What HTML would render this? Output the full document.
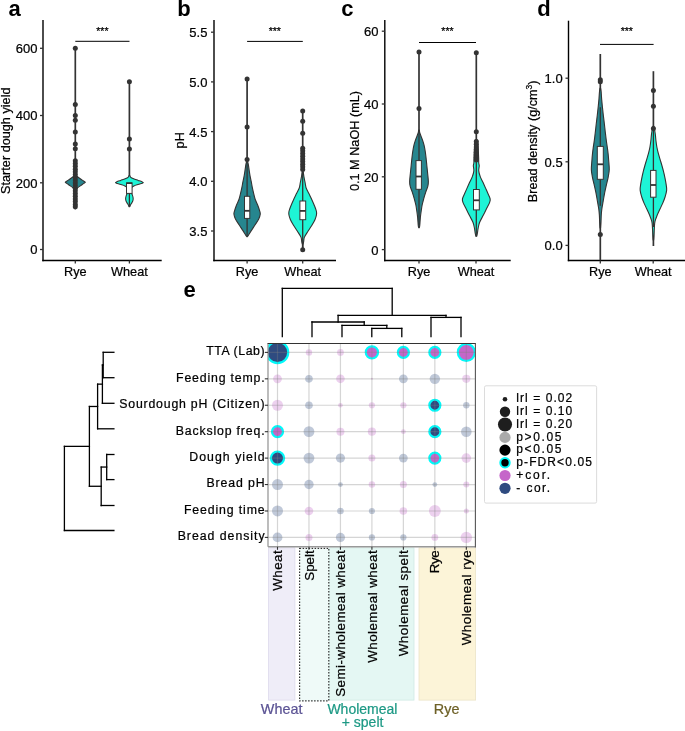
<!DOCTYPE html>
<html><head><meta charset="utf-8"><style>
html,body{margin:0;padding:0;background:#fff;}
body{width:685px;height:731px;overflow:hidden;font-family:"Liberation Sans",sans-serif;}
svg{display:block;will-change:transform;}
</style></head><body>
<svg width="685" height="731" viewBox="0 0 685 731" font-family="'Liberation Sans', sans-serif">
<rect width="685" height="731" fill="#fff"/>
<text x="8.6" y="15.8" font-size="22" text-anchor="start" font-weight="bold" fill="#000" stroke="#000" stroke-width="0" >a</text>
<line x1="43" y1="20" x2="43" y2="261.2" stroke="#000" stroke-width="1.4" />
<line x1="42.3" y1="260.5" x2="161.7" y2="260.5" stroke="#000" stroke-width="1.4" />
<line x1="40" y1="48.3" x2="43" y2="48.3" stroke="#333" stroke-width="1.3" />
<text x="37.5" y="53.199999999999996" font-size="13.0" text-anchor="end" font-weight="normal" fill="#000" stroke="#000" stroke-width="0.22" >600</text>
<line x1="40" y1="115.5" x2="43" y2="115.5" stroke="#333" stroke-width="1.3" />
<text x="37.5" y="120.4" font-size="13.0" text-anchor="end" font-weight="normal" fill="#000" stroke="#000" stroke-width="0.22" >400</text>
<line x1="40" y1="182.8" x2="43" y2="182.8" stroke="#333" stroke-width="1.3" />
<text x="37.5" y="187.70000000000002" font-size="13.0" text-anchor="end" font-weight="normal" fill="#000" stroke="#000" stroke-width="0.22" >200</text>
<line x1="40" y1="249.5" x2="43" y2="249.5" stroke="#333" stroke-width="1.3" />
<text x="37.5" y="254.4" font-size="13.0" text-anchor="end" font-weight="normal" fill="#000" stroke="#000" stroke-width="0.22" >0</text>
<line x1="75.3" y1="260.5" x2="75.3" y2="263.5" stroke="#333" stroke-width="1.3" />
<text x="75.3" y="275.6" font-size="12.7" text-anchor="middle" font-weight="normal" fill="#000" stroke="#000" stroke-width="0.22" >Rye</text>
<line x1="129.4" y1="260.5" x2="129.4" y2="263.5" stroke="#333" stroke-width="1.3" />
<text x="129.4" y="275.6" font-size="12.7" text-anchor="middle" font-weight="normal" fill="#000" stroke="#000" stroke-width="0.22" >Wheat</text>
<text x="0" y="0" font-size="12.7" text-anchor="middle" font-weight="normal" fill="#000" stroke="#000" stroke-width="0.22" transform="translate(10.3,140.7) rotate(-90)">Starter dough yield</text>
<line x1="75.3" y1="41.3" x2="129.5" y2="41.3" stroke="#000" stroke-width="1.0" />
<text x="102.4" y="35.2" font-size="10.5" text-anchor="middle" font-weight="normal" fill="#000" stroke="#000" stroke-width="0.22" >***</text>
<line x1="75.3" y1="48.2" x2="75.3" y2="209.4" stroke="#333" stroke-width="1.7" />
<path d="M75.55,175.20 C75.93,175.50 77.00,176.37 77.85,177.00 C78.70,177.63 79.70,178.33 80.65,179.00 C81.60,179.67 82.77,180.45 83.55,181.00 C84.33,181.55 85.35,181.87 85.35,182.30 C85.35,182.73 84.33,183.05 83.55,183.60 C82.77,184.15 81.60,184.93 80.65,185.60 C79.70,186.27 78.70,186.95 77.85,187.60 C77.00,188.25 75.93,189.18 75.55,189.50 L75.05,189.50 C74.67,189.18 73.60,188.25 72.75,187.60 C71.90,186.95 70.90,186.27 69.95,185.60 C69.00,184.93 67.83,184.15 67.05,183.60 C66.27,183.05 65.25,182.73 65.25,182.30 C65.25,181.87 66.27,181.55 67.05,181.00 C67.83,180.45 69.00,179.67 69.95,179.00 C70.90,178.33 71.90,177.63 72.75,177.00 C73.60,176.37 74.67,175.50 75.05,175.20 Z" fill="#26868f" stroke="#333" stroke-width="1.1" stroke-linejoin="round"/>
<circle cx="75.3" cy="48.2" r="2.5" fill="#333"/>
<circle cx="75.3" cy="104.4" r="2.5" fill="#333"/>
<circle cx="75.3" cy="115.6" r="2.5" fill="#333"/>
<circle cx="75.3" cy="120.2" r="2.5" fill="#333"/>
<circle cx="75.3" cy="132" r="2.5" fill="#333"/>
<circle cx="75.3" cy="144.1" r="2.5" fill="#333"/>
<circle cx="75.3" cy="148.8" r="2.5" fill="#333"/>
<circle cx="75.3" cy="160.8" r="2.5" fill="#333"/>
<circle cx="75.3" cy="163.6" r="2.5" fill="#333"/>
<circle cx="75.3" cy="166.2" r="2.5" fill="#333"/>
<circle cx="75.3" cy="169.2" r="2.5" fill="#333"/>
<circle cx="75.3" cy="171.8" r="2.5" fill="#333"/>
<circle cx="75.3" cy="174.6" r="2.5" fill="#333"/>
<circle cx="75.3" cy="177.2" r="2.5" fill="#333"/>
<circle cx="75.3" cy="180" r="2.5" fill="#333"/>
<circle cx="75.3" cy="182.8" r="2.5" fill="#333"/>
<circle cx="75.3" cy="185.4" r="2.5" fill="#333"/>
<circle cx="75.3" cy="188.2" r="2.5" fill="#333"/>
<circle cx="75.3" cy="190.8" r="2.5" fill="#333"/>
<circle cx="75.3" cy="193.6" r="2.5" fill="#333"/>
<circle cx="75.3" cy="196.2" r="2.5" fill="#333"/>
<circle cx="75.3" cy="199" r="2.5" fill="#333"/>
<circle cx="75.3" cy="201.6" r="2.5" fill="#333"/>
<circle cx="75.3" cy="204.4" r="2.5" fill="#333"/>
<circle cx="75.3" cy="206.8" r="2.5" fill="#333"/>
<line x1="129.4" y1="81.7" x2="129.4" y2="206.7" stroke="#333" stroke-width="1.7" />
<path d="M129.75,175.50 C129.92,175.80 130.10,176.75 130.75,177.30 C131.40,177.85 132.42,178.28 133.65,178.80 C134.88,179.32 136.77,179.90 138.15,180.40 C139.53,180.90 141.08,181.42 141.95,181.80 C142.82,182.18 143.45,182.40 143.35,182.70 C143.25,183.00 142.38,183.25 141.35,183.60 C140.32,183.95 138.38,184.42 137.15,184.80 C135.92,185.18 134.78,185.53 133.95,185.90 C133.12,186.27 132.57,186.62 132.15,187.00 C131.73,187.38 131.65,187.70 131.45,188.20 C131.25,188.70 130.97,189.28 130.95,190.00 C130.93,190.72 131.15,191.75 131.35,192.50 C131.55,193.25 131.88,193.75 132.15,194.50 C132.42,195.25 132.78,196.22 132.95,197.00 C133.12,197.78 133.22,198.45 133.15,199.20 C133.08,199.95 132.85,200.78 132.55,201.50 C132.25,202.22 131.75,202.83 131.35,203.50 C130.95,204.17 130.43,204.95 130.15,205.50 C129.87,206.05 129.73,206.58 129.65,206.80 L129.15,206.80 C129.07,206.58 128.93,206.05 128.65,205.50 C128.37,204.95 127.85,204.17 127.45,203.50 C127.05,202.83 126.55,202.22 126.25,201.50 C125.95,200.78 125.72,199.95 125.65,199.20 C125.58,198.45 125.68,197.78 125.85,197.00 C126.02,196.22 126.38,195.25 126.65,194.50 C126.92,193.75 127.25,193.25 127.45,192.50 C127.65,191.75 127.87,190.72 127.85,190.00 C127.83,189.28 127.55,188.70 127.35,188.20 C127.15,187.70 127.07,187.38 126.65,187.00 C126.23,186.62 125.68,186.27 124.85,185.90 C124.02,185.53 122.88,185.18 121.65,184.80 C120.42,184.42 118.48,183.95 117.45,183.60 C116.42,183.25 115.55,183.00 115.45,182.70 C115.35,182.40 115.98,182.18 116.85,181.80 C117.72,181.42 119.27,180.90 120.65,180.40 C122.03,179.90 123.92,179.32 125.15,178.80 C126.38,178.28 127.40,177.85 128.05,177.30 C128.70,176.75 128.88,175.80 129.05,175.50 Z" fill="#1ef4d6" stroke="#333" stroke-width="1.1" stroke-linejoin="round"/>
<line x1="129.4" y1="193" x2="129.4" y2="206" stroke="#333" stroke-width="1.3" />
<rect x="126.5" y="182.9" width="5.6" height="10.5" fill="#fff" stroke="#333" stroke-width="1"/>
<line x1="126.5" y1="183.2" x2="132.1" y2="183.2" stroke="#333" stroke-width="1.6" />
<circle cx="129.4" cy="81.7" r="2.5" fill="#333"/>
<circle cx="129.4" cy="139" r="2.5" fill="#333"/>
<circle cx="129.4" cy="149" r="2.5" fill="#333"/>
<text x="177.2" y="15.8" font-size="22" text-anchor="start" font-weight="bold" fill="#000" stroke="#000" stroke-width="0" >b</text>
<line x1="214" y1="20" x2="214" y2="261.2" stroke="#000" stroke-width="1.4" />
<line x1="213.3" y1="260.5" x2="336" y2="260.5" stroke="#000" stroke-width="1.4" />
<line x1="211" y1="32.19999999999999" x2="214" y2="32.19999999999999" stroke="#333" stroke-width="1.3" />
<text x="207.4" y="37.09999999999999" font-size="13.0" text-anchor="end" font-weight="normal" fill="#000" stroke="#000" stroke-width="0.22" >5.5</text>
<line x1="211" y1="81.89999999999998" x2="214" y2="81.89999999999998" stroke="#333" stroke-width="1.3" />
<text x="207.4" y="86.79999999999998" font-size="13.0" text-anchor="end" font-weight="normal" fill="#000" stroke="#000" stroke-width="0.22" >5.0</text>
<line x1="211" y1="131.6" x2="214" y2="131.6" stroke="#333" stroke-width="1.3" />
<text x="207.4" y="136.5" font-size="13.0" text-anchor="end" font-weight="normal" fill="#000" stroke="#000" stroke-width="0.22" >4.5</text>
<line x1="211" y1="181.3" x2="214" y2="181.3" stroke="#333" stroke-width="1.3" />
<text x="207.4" y="186.20000000000002" font-size="13.0" text-anchor="end" font-weight="normal" fill="#000" stroke="#000" stroke-width="0.22" >4.0</text>
<line x1="211" y1="231.0" x2="214" y2="231.0" stroke="#333" stroke-width="1.3" />
<text x="207.4" y="235.9" font-size="13.0" text-anchor="end" font-weight="normal" fill="#000" stroke="#000" stroke-width="0.22" >3.5</text>
<line x1="247.1" y1="260.5" x2="247.1" y2="263.5" stroke="#333" stroke-width="1.3" />
<text x="247.1" y="275.6" font-size="12.7" text-anchor="middle" font-weight="normal" fill="#000" stroke="#000" stroke-width="0.22" >Rye</text>
<line x1="302.7" y1="260.5" x2="302.7" y2="263.5" stroke="#333" stroke-width="1.3" />
<text x="302.7" y="275.6" font-size="12.7" text-anchor="middle" font-weight="normal" fill="#000" stroke="#000" stroke-width="0.22" >Wheat</text>
<text x="0" y="0" font-size="12.7" text-anchor="middle" font-weight="normal" fill="#000" stroke="#000" stroke-width="0.22" transform="translate(184.0,140.3) rotate(-90)">pH</text>
<line x1="247.1" y1="41.4" x2="302.8" y2="41.4" stroke="#000" stroke-width="1.0" />
<text x="274.8" y="35.2" font-size="10.5" text-anchor="middle" font-weight="normal" fill="#000" stroke="#000" stroke-width="0.22" >***</text>
<line x1="247.1" y1="79.1" x2="247.1" y2="236.2" stroke="#333" stroke-width="1.7" />
<path d="M247.45,161.00 C247.59,161.55 248.02,162.78 248.30,164.30 C248.58,165.82 248.86,168.17 249.15,170.10 C249.44,172.03 249.70,173.97 250.05,175.90 C250.40,177.83 250.87,179.75 251.25,181.70 C251.63,183.65 251.95,185.65 252.35,187.60 C252.75,189.55 253.18,191.47 253.65,193.40 C254.12,195.33 254.48,197.27 255.15,199.20 C255.82,201.13 256.90,203.07 257.65,205.00 C258.40,206.93 259.22,209.25 259.65,210.80 C260.08,212.35 260.40,212.93 260.25,214.30 C260.10,215.67 259.60,217.25 258.75,219.00 C257.90,220.75 256.40,222.87 255.15,224.80 C253.90,226.73 252.37,228.87 251.25,230.60 C250.13,232.33 249.10,234.20 248.45,235.20 C247.80,236.20 247.53,236.37 247.35,236.60 L246.85,236.60 C246.67,236.37 246.40,236.20 245.75,235.20 C245.10,234.20 244.07,232.33 242.95,230.60 C241.83,228.87 240.30,226.73 239.05,224.80 C237.80,222.87 236.30,220.75 235.45,219.00 C234.60,217.25 234.10,215.67 233.95,214.30 C233.80,212.93 234.12,212.35 234.55,210.80 C234.98,209.25 235.80,206.93 236.55,205.00 C237.30,203.07 238.38,201.13 239.05,199.20 C239.72,197.27 240.08,195.33 240.55,193.40 C241.02,191.47 241.45,189.55 241.85,187.60 C242.25,185.65 242.57,183.65 242.95,181.70 C243.33,179.75 243.80,177.83 244.15,175.90 C244.50,173.97 244.76,172.03 245.05,170.10 C245.34,168.17 245.62,165.82 245.90,164.30 C246.18,162.78 246.61,161.55 246.75,161.00 Z" fill="#26868f" stroke="#333" stroke-width="1.1" stroke-linejoin="round"/>
<line x1="247.1" y1="160" x2="247.1" y2="196.3" stroke="#333" stroke-width="1.3" />
<line x1="247.1" y1="218.4" x2="247.1" y2="236" stroke="#333" stroke-width="1.3" />
<rect x="244.5" y="196.3" width="5.300000000000011" height="22.099999999999994" fill="#fff" stroke="#333" stroke-width="1"/>
<line x1="244.5" y1="210.8" x2="249.8" y2="210.8" stroke="#333" stroke-width="1.8" />
<circle cx="247.1" cy="79.1" r="2.5" fill="#333"/>
<circle cx="247.1" cy="127" r="2.5" fill="#333"/>
<circle cx="247.1" cy="159.6" r="2.5" fill="#333"/>
<line x1="302.7" y1="111" x2="302.7" y2="249.7" stroke="#333" stroke-width="1.7" />
<path d="M303.25,172.00 C303.36,172.77 303.60,174.87 303.90,176.60 C304.20,178.33 304.66,180.45 305.05,182.40 C305.44,184.35 305.57,186.35 306.25,188.30 C306.93,190.25 308.20,192.17 309.15,194.10 C310.10,196.03 311.07,197.97 311.95,199.90 C312.83,201.83 313.70,203.77 314.45,205.70 C315.20,207.63 316.12,209.95 316.45,211.50 C316.78,213.05 316.70,213.63 316.45,215.00 C316.20,216.37 315.73,217.95 314.95,219.70 C314.17,221.45 312.92,223.57 311.75,225.50 C310.58,227.43 309.17,229.37 307.95,231.30 C306.73,233.23 305.17,235.37 304.45,237.10 C303.73,238.83 303.88,240.55 303.65,241.70 C303.42,242.85 303.15,243.62 303.05,244.00 L302.35,244.00 C302.25,243.62 301.98,242.85 301.75,241.70 C301.52,240.55 301.67,238.83 300.95,237.10 C300.23,235.37 298.67,233.23 297.45,231.30 C296.23,229.37 294.82,227.43 293.65,225.50 C292.48,223.57 291.23,221.45 290.45,219.70 C289.67,217.95 289.20,216.37 288.95,215.00 C288.70,213.63 288.62,213.05 288.95,211.50 C289.28,209.95 290.20,207.63 290.95,205.70 C291.70,203.77 292.57,201.83 293.45,199.90 C294.33,197.97 295.30,196.03 296.25,194.10 C297.20,192.17 298.47,190.25 299.15,188.30 C299.83,186.35 299.96,184.35 300.35,182.40 C300.74,180.45 301.20,178.33 301.50,176.60 C301.80,174.87 302.04,172.77 302.15,172.00 Z" fill="#1ef4d6" stroke="#333" stroke-width="1.1" stroke-linejoin="round"/>
<line x1="302.7" y1="172" x2="302.7" y2="201" stroke="#333" stroke-width="1.3" />
<line x1="302.7" y1="219.7" x2="302.7" y2="249" stroke="#333" stroke-width="1.3" />
<rect x="299.9" y="201" width="5.800000000000011" height="18.69999999999999" fill="#fff" stroke="#333" stroke-width="1"/>
<line x1="299.9" y1="210.9" x2="305.7" y2="210.9" stroke="#333" stroke-width="1.8" />
<circle cx="302.7" cy="111" r="2.5" fill="#333"/>
<circle cx="302.7" cy="121.2" r="2.5" fill="#333"/>
<circle cx="302.7" cy="133.2" r="2.5" fill="#333"/>
<circle cx="302.7" cy="148.2" r="2.5" fill="#333"/>
<circle cx="302.7" cy="150.8" r="2.5" fill="#333"/>
<circle cx="302.7" cy="153.6" r="2.5" fill="#333"/>
<circle cx="302.7" cy="156.2" r="2.5" fill="#333"/>
<circle cx="302.7" cy="158.9" r="2.5" fill="#333"/>
<circle cx="302.7" cy="161.5" r="2.5" fill="#333"/>
<circle cx="302.7" cy="164.2" r="2.5" fill="#333"/>
<circle cx="302.7" cy="166.8" r="2.5" fill="#333"/>
<circle cx="302.7" cy="169.5" r="2.5" fill="#333"/>
<circle cx="302.7" cy="249.7" r="2.5" fill="#333"/>
<text x="341.2" y="15.8" font-size="22" text-anchor="start" font-weight="bold" fill="#000" stroke="#000" stroke-width="0" >c</text>
<line x1="384.8" y1="20" x2="384.8" y2="261.2" stroke="#000" stroke-width="1.4" />
<line x1="384.1" y1="260.5" x2="510.7" y2="260.5" stroke="#000" stroke-width="1.4" />
<line x1="381.8" y1="31.19999999999999" x2="384.8" y2="31.19999999999999" stroke="#333" stroke-width="1.3" />
<text x="378.5" y="36.09999999999999" font-size="13.0" text-anchor="end" font-weight="normal" fill="#000" stroke="#000" stroke-width="0.22" >60</text>
<line x1="381.8" y1="104.0" x2="384.8" y2="104.0" stroke="#333" stroke-width="1.3" />
<text x="378.5" y="108.9" font-size="13.0" text-anchor="end" font-weight="normal" fill="#000" stroke="#000" stroke-width="0.22" >40</text>
<line x1="381.8" y1="176.8" x2="384.8" y2="176.8" stroke="#333" stroke-width="1.3" />
<text x="378.5" y="181.70000000000002" font-size="13.0" text-anchor="end" font-weight="normal" fill="#000" stroke="#000" stroke-width="0.22" >20</text>
<line x1="381.8" y1="249.6" x2="384.8" y2="249.6" stroke="#333" stroke-width="1.3" />
<text x="378.5" y="254.5" font-size="13.0" text-anchor="end" font-weight="normal" fill="#000" stroke="#000" stroke-width="0.22" >0</text>
<line x1="419" y1="260.5" x2="419" y2="263.5" stroke="#333" stroke-width="1.3" />
<text x="419" y="275.6" font-size="12.7" text-anchor="middle" font-weight="normal" fill="#000" stroke="#000" stroke-width="0.22" >Rye</text>
<line x1="476" y1="260.5" x2="476" y2="263.5" stroke="#333" stroke-width="1.3" />
<text x="476" y="275.6" font-size="12.7" text-anchor="middle" font-weight="normal" fill="#000" stroke="#000" stroke-width="0.22" >Wheat</text>
<text x="0" y="0" font-size="12.7" text-anchor="middle" font-weight="normal" fill="#000" stroke="#000" stroke-width="0.22" transform="translate(358.6,141) rotate(-90)">0.1 M NaOH (mL)</text>
<line x1="419" y1="42.5" x2="476" y2="42.5" stroke="#000" stroke-width="1.0" />
<text x="447.5" y="35.2" font-size="10.5" text-anchor="middle" font-weight="normal" fill="#000" stroke="#000" stroke-width="0.22" >***</text>
<line x1="419" y1="51.9" x2="419" y2="227.1" stroke="#333" stroke-width="1.7" />
<path d="M419.35,130.00 C419.42,130.43 419.50,131.65 419.75,132.60 C420.00,133.55 420.37,134.38 420.85,135.70 C421.33,137.02 422.12,138.92 422.65,140.50 C423.18,142.08 423.62,143.37 424.05,145.20 C424.48,147.03 424.92,149.40 425.25,151.50 C425.58,153.60 425.78,155.43 426.05,157.80 C426.32,160.17 426.58,163.08 426.85,165.70 C427.12,168.32 427.40,170.88 427.65,173.50 C427.90,176.12 428.32,179.30 428.35,181.40 C428.38,183.50 428.30,184.27 427.85,186.10 C427.40,187.93 426.33,190.30 425.65,192.40 C424.97,194.50 424.33,196.60 423.75,198.70 C423.17,200.80 422.58,202.90 422.15,205.00 C421.72,207.10 421.45,209.20 421.15,211.30 C420.85,213.40 420.58,215.23 420.35,217.60 C420.12,219.97 419.93,223.80 419.75,225.50 C419.57,227.20 419.33,227.42 419.25,227.80 L418.75,227.80 C418.67,227.42 418.43,227.20 418.25,225.50 C418.07,223.80 417.88,219.97 417.65,217.60 C417.42,215.23 417.15,213.40 416.85,211.30 C416.55,209.20 416.28,207.10 415.85,205.00 C415.42,202.90 414.83,200.80 414.25,198.70 C413.67,196.60 413.03,194.50 412.35,192.40 C411.67,190.30 410.60,187.93 410.15,186.10 C409.70,184.27 409.62,183.50 409.65,181.40 C409.68,179.30 410.10,176.12 410.35,173.50 C410.60,170.88 410.88,168.32 411.15,165.70 C411.42,163.08 411.68,160.17 411.95,157.80 C412.22,155.43 412.42,153.60 412.75,151.50 C413.08,149.40 413.52,147.03 413.95,145.20 C414.38,143.37 414.82,142.08 415.35,140.50 C415.88,138.92 416.67,137.02 417.15,135.70 C417.63,134.38 418.00,133.55 418.25,132.60 C418.50,131.65 418.58,130.43 418.65,130.00 Z" fill="#26868f" stroke="#333" stroke-width="1.1" stroke-linejoin="round"/>
<line x1="419" y1="130" x2="419" y2="160.6" stroke="#333" stroke-width="1.3" />
<line x1="419" y1="189.3" x2="419" y2="225" stroke="#333" stroke-width="1.3" />
<rect x="416" y="160.6" width="5.399999999999977" height="28.700000000000017" fill="#fff" stroke="#333" stroke-width="1"/>
<line x1="416" y1="176.5" x2="421.4" y2="176.5" stroke="#333" stroke-width="1.8" />
<circle cx="419" cy="51.9" r="2.5" fill="#333"/>
<circle cx="419" cy="108.6" r="2.5" fill="#333"/>
<line x1="476.3" y1="52.8" x2="476.3" y2="236.5" stroke="#333" stroke-width="1.7" />
<path d="M477.55,140.00 C477.67,141.67 478.07,147.00 478.25,150.00 C478.43,153.00 478.57,155.83 478.65,158.00 C478.73,160.17 478.65,161.70 478.75,163.00 C478.85,164.30 479.25,164.48 479.25,165.80 C479.25,167.12 478.58,169.10 478.75,170.90 C478.92,172.70 479.55,174.70 480.25,176.60 C480.95,178.50 482.07,180.38 482.95,182.30 C483.83,184.22 484.70,186.18 485.55,188.10 C486.40,190.02 487.28,192.02 488.05,193.80 C488.82,195.58 489.88,197.37 490.15,198.80 C490.42,200.23 490.20,200.85 489.65,202.40 C489.10,203.95 487.92,205.95 486.85,208.10 C485.78,210.25 484.47,212.90 483.25,215.30 C482.03,217.70 480.40,220.35 479.55,222.50 C478.70,224.65 478.53,226.28 478.15,228.20 C477.77,230.12 477.52,232.65 477.25,234.00 C476.98,235.35 476.67,235.92 476.55,236.30 L476.05,236.30 C475.93,235.92 475.62,235.35 475.35,234.00 C475.08,232.65 474.83,230.12 474.45,228.20 C474.07,226.28 473.90,224.65 473.05,222.50 C472.20,220.35 470.57,217.70 469.35,215.30 C468.13,212.90 466.82,210.25 465.75,208.10 C464.68,205.95 463.50,203.95 462.95,202.40 C462.40,200.85 462.18,200.23 462.45,198.80 C462.72,197.37 463.78,195.58 464.55,193.80 C465.32,192.02 466.20,190.02 467.05,188.10 C467.90,186.18 468.77,184.22 469.65,182.30 C470.53,180.38 471.65,178.50 472.35,176.60 C473.05,174.70 473.68,172.70 473.85,170.90 C474.02,169.10 473.35,167.12 473.35,165.80 C473.35,164.48 473.75,164.30 473.85,163.00 C473.95,161.70 473.87,160.17 473.95,158.00 C474.03,155.83 474.17,153.00 474.35,150.00 C474.53,147.00 474.93,141.67 475.05,140.00 Z" fill="#1ef4d6" stroke="#333" stroke-width="1.1" stroke-linejoin="round"/>
<line x1="476.3" y1="160" x2="476.3" y2="189.5" stroke="#333" stroke-width="1.3" />
<line x1="476.3" y1="209.9" x2="476.3" y2="235" stroke="#333" stroke-width="1.3" />
<rect x="473.5" y="189.5" width="5.800000000000011" height="20.400000000000006" fill="#fff" stroke="#333" stroke-width="1"/>
<line x1="473.5" y1="200.3" x2="479.3" y2="200.3" stroke="#333" stroke-width="1.8" />
<circle cx="476.3" cy="52.8" r="2.5" fill="#333"/>
<circle cx="476.3" cy="131.8" r="2.5" fill="#333"/>
<circle cx="476.3" cy="141.6" r="2.5" fill="#333"/>
<circle cx="476.3" cy="144.2" r="2.5" fill="#333"/>
<circle cx="476.3" cy="146.9" r="2.5" fill="#333"/>
<circle cx="476.3" cy="149.5" r="2.5" fill="#333"/>
<circle cx="476.3" cy="152.2" r="2.5" fill="#333"/>
<circle cx="476.3" cy="154.8" r="2.5" fill="#333"/>
<circle cx="476.3" cy="157.5" r="2.5" fill="#333"/>
<circle cx="476.3" cy="160" r="2.5" fill="#333"/>
<text x="537.3" y="15.8" font-size="22" text-anchor="start" font-weight="bold" fill="#000" stroke="#000" stroke-width="0" >d</text>
<line x1="568.5" y1="20.7" x2="568.5" y2="261.2" stroke="#000" stroke-width="1.4" />
<line x1="567.8" y1="260.5" x2="685" y2="260.5" stroke="#000" stroke-width="1.4" />
<line x1="565.5" y1="78.20000000000002" x2="568.5" y2="78.20000000000002" stroke="#333" stroke-width="1.3" />
<text x="562.7" y="83.10000000000002" font-size="13.0" text-anchor="end" font-weight="normal" fill="#000" stroke="#000" stroke-width="0.22" >1.0</text>
<line x1="565.5" y1="161.8" x2="568.5" y2="161.8" stroke="#333" stroke-width="1.3" />
<text x="562.7" y="166.70000000000002" font-size="13.0" text-anchor="end" font-weight="normal" fill="#000" stroke="#000" stroke-width="0.22" >0.5</text>
<line x1="565.5" y1="245.4" x2="568.5" y2="245.4" stroke="#333" stroke-width="1.3" />
<text x="562.7" y="250.3" font-size="13.0" text-anchor="end" font-weight="normal" fill="#000" stroke="#000" stroke-width="0.22" >0.0</text>
<line x1="600.3" y1="260.5" x2="600.3" y2="263.5" stroke="#333" stroke-width="1.3" />
<text x="600.3" y="275.6" font-size="12.7" text-anchor="middle" font-weight="normal" fill="#000" stroke="#000" stroke-width="0.22" >Rye</text>
<line x1="653.2" y1="260.5" x2="653.2" y2="263.5" stroke="#333" stroke-width="1.3" />
<text x="653.2" y="275.6" font-size="12.7" text-anchor="middle" font-weight="normal" fill="#000" stroke="#000" stroke-width="0.22" >Wheat</text>
<text font-size="12.7" text-anchor="middle" fill="#000" stroke="#000" stroke-width="0.22" transform="translate(536.9,141.3) rotate(-90)">Bread density (g/cm<tspan font-size="8.5" dy="-5">3</tspan><tspan dy="5">)</tspan></text>
<line x1="600" y1="44.4" x2="653.6" y2="44.4" stroke="#000" stroke-width="1.0" />
<text x="626.8" y="35.2" font-size="10.5" text-anchor="middle" font-weight="normal" fill="#000" stroke="#000" stroke-width="0.22" >***</text>
<line x1="600.3" y1="54" x2="600.3" y2="260" stroke="#333" stroke-width="1.7" />
<path d="M600.55,88.00 C600.65,88.67 600.97,90.15 601.15,92.00 C601.33,93.85 601.43,96.55 601.65,99.10 C601.87,101.65 602.17,104.57 602.45,107.30 C602.73,110.03 603.03,112.77 603.35,115.50 C603.67,118.23 604.03,120.97 604.35,123.70 C604.67,126.43 604.93,129.17 605.25,131.90 C605.57,134.63 605.88,137.37 606.25,140.10 C606.62,142.83 607.13,145.98 607.45,148.30 C607.77,150.62 607.95,152.05 608.15,154.00 C608.35,155.95 608.47,157.43 608.65,160.00 C608.83,162.57 609.32,166.60 609.25,169.40 C609.18,172.20 608.70,174.33 608.25,176.80 C607.80,179.27 607.15,181.53 606.55,184.20 C605.95,186.87 605.22,189.93 604.65,192.80 C604.08,195.67 603.62,198.73 603.15,201.40 C602.68,204.07 602.17,206.55 601.85,208.80 C601.53,211.05 601.40,212.70 601.25,214.90 C601.10,217.10 601.07,219.82 600.95,222.00 C600.83,224.18 600.62,227.00 600.55,228.00 L600.05,228.00 C599.98,227.00 599.77,224.18 599.65,222.00 C599.53,219.82 599.50,217.10 599.35,214.90 C599.20,212.70 599.07,211.05 598.75,208.80 C598.43,206.55 597.92,204.07 597.45,201.40 C596.98,198.73 596.52,195.67 595.95,192.80 C595.38,189.93 594.65,186.87 594.05,184.20 C593.45,181.53 592.80,179.27 592.35,176.80 C591.90,174.33 591.42,172.20 591.35,169.40 C591.28,166.60 591.77,162.57 591.95,160.00 C592.13,157.43 592.25,155.95 592.45,154.00 C592.65,152.05 592.83,150.62 593.15,148.30 C593.47,145.98 593.98,142.83 594.35,140.10 C594.72,137.37 595.03,134.63 595.35,131.90 C595.67,129.17 595.93,126.43 596.25,123.70 C596.57,120.97 596.93,118.23 597.25,115.50 C597.57,112.77 597.87,110.03 598.15,107.30 C598.43,104.57 598.73,101.65 598.95,99.10 C599.17,96.55 599.27,93.85 599.45,92.00 C599.63,90.15 599.95,88.67 600.05,88.00 Z" fill="#26868f" stroke="#333" stroke-width="1.1" stroke-linejoin="round"/>
<line x1="600.3" y1="107.3" x2="600.3" y2="146.4" stroke="#333" stroke-width="1.3" />
<line x1="600.3" y1="179.3" x2="600.3" y2="205.7" stroke="#333" stroke-width="1.3" />
<rect x="597.3" y="146.4" width="6.0" height="32.900000000000006" fill="#fff" stroke="#333" stroke-width="1"/>
<line x1="597.3" y1="164.3" x2="603.3" y2="164.3" stroke="#333" stroke-width="1.8" />
<circle cx="600.3" cy="79.8" r="2.5" fill="#333"/>
<circle cx="600.3" cy="81.8" r="2.5" fill="#333"/>
<circle cx="600.3" cy="234.6" r="2.5" fill="#333"/>
<line x1="653.4" y1="71.2" x2="653.4" y2="246" stroke="#333" stroke-width="1.7" />
<path d="M653.75,126.00 C653.90,126.67 654.38,128.57 654.65,130.00 C654.92,131.43 655.13,132.80 655.35,134.60 C655.57,136.40 655.70,138.73 655.95,140.80 C656.20,142.87 656.47,144.95 656.85,147.00 C657.23,149.05 657.72,151.05 658.25,153.10 C658.78,155.15 659.44,157.23 660.05,159.30 C660.66,161.37 661.32,163.45 661.90,165.50 C662.48,167.55 663.04,169.55 663.55,171.60 C664.06,173.65 664.53,175.75 664.95,177.80 C665.37,179.85 665.77,181.85 666.05,183.90 C666.33,185.95 666.82,187.92 666.65,190.10 C666.48,192.28 665.70,194.83 665.05,197.00 C664.40,199.17 663.62,201.05 662.75,203.10 C661.88,205.15 660.80,207.23 659.85,209.30 C658.90,211.37 657.87,213.45 657.05,215.50 C656.23,217.55 655.40,219.55 654.95,221.60 C654.50,223.65 654.52,225.40 654.35,227.80 C654.18,230.20 654.07,233.97 653.95,236.00 C653.83,238.03 653.70,239.33 653.65,240.00 L653.15,240.00 C653.10,239.33 652.97,238.03 652.85,236.00 C652.73,233.97 652.62,230.20 652.45,227.80 C652.28,225.40 652.30,223.65 651.85,221.60 C651.40,219.55 650.57,217.55 649.75,215.50 C648.93,213.45 647.90,211.37 646.95,209.30 C646.00,207.23 644.92,205.15 644.05,203.10 C643.18,201.05 642.40,199.17 641.75,197.00 C641.10,194.83 640.32,192.28 640.15,190.10 C639.98,187.92 640.47,185.95 640.75,183.90 C641.03,181.85 641.43,179.85 641.85,177.80 C642.27,175.75 642.74,173.65 643.25,171.60 C643.76,169.55 644.32,167.55 644.90,165.50 C645.48,163.45 646.14,161.37 646.75,159.30 C647.36,157.23 648.02,155.15 648.55,153.10 C649.08,151.05 649.57,149.05 649.95,147.00 C650.33,144.95 650.60,142.87 650.85,140.80 C651.10,138.73 651.23,136.40 651.45,134.60 C651.67,132.80 651.88,131.43 652.15,130.00 C652.42,128.57 652.90,126.67 653.05,126.00 Z" fill="#1ef4d6" stroke="#333" stroke-width="1.1" stroke-linejoin="round"/>
<line x1="653.4" y1="130" x2="653.4" y2="170.4" stroke="#333" stroke-width="1.3" />
<line x1="653.4" y1="197.2" x2="653.4" y2="227" stroke="#333" stroke-width="1.3" />
<rect x="650.6" y="170.4" width="5.399999999999977" height="26.799999999999983" fill="#fff" stroke="#333" stroke-width="1"/>
<line x1="650.6" y1="185" x2="656" y2="185" stroke="#333" stroke-width="1.8" />
<circle cx="653.4" cy="90.6" r="2.5" fill="#333"/>
<circle cx="653.4" cy="106.3" r="2.5" fill="#333"/>
<circle cx="653.4" cy="128.4" r="2.5" fill="#333"/>
<text x="183.6" y="297.3" font-size="22" text-anchor="start" font-weight="bold" fill="#000" stroke="#000" stroke-width="0" >e</text>
<line x1="282.3" y1="288.3" x2="392.2" y2="288.3" stroke="#000" stroke-width="1.3" stroke-linecap="square"/>
<line x1="282.3" y1="288.3" x2="282.3" y2="336.7" stroke="#000" stroke-width="1.3" stroke-linecap="square"/>
<line x1="392.2" y1="288.3" x2="392.2" y2="315.3" stroke="#000" stroke-width="1.3" stroke-linecap="square"/>
<line x1="338.1" y1="315.3" x2="446" y2="315.3" stroke="#000" stroke-width="1.3" stroke-linecap="square"/>
<line x1="338.1" y1="315.3" x2="338.1" y2="322" stroke="#000" stroke-width="1.3" stroke-linecap="square"/>
<line x1="446" y1="315.3" x2="446" y2="317.4" stroke="#000" stroke-width="1.3" stroke-linecap="square"/>
<line x1="312" y1="322" x2="364.2" y2="322" stroke="#000" stroke-width="1.3" stroke-linecap="square"/>
<line x1="312" y1="322" x2="312" y2="336.7" stroke="#000" stroke-width="1.3" stroke-linecap="square"/>
<line x1="364.2" y1="322" x2="364.2" y2="325.4" stroke="#000" stroke-width="1.3" stroke-linecap="square"/>
<line x1="342" y1="325.4" x2="386.8" y2="325.4" stroke="#000" stroke-width="1.3" stroke-linecap="square"/>
<line x1="342" y1="325.4" x2="342" y2="336.7" stroke="#000" stroke-width="1.3" stroke-linecap="square"/>
<line x1="386.8" y1="325.4" x2="386.8" y2="328.4" stroke="#000" stroke-width="1.3" stroke-linecap="square"/>
<line x1="371.8" y1="328.4" x2="401.8" y2="328.4" stroke="#000" stroke-width="1.3" stroke-linecap="square"/>
<line x1="371.8" y1="328.4" x2="371.8" y2="336.7" stroke="#000" stroke-width="1.3" stroke-linecap="square"/>
<line x1="401.8" y1="328.4" x2="401.8" y2="336.7" stroke="#000" stroke-width="1.3" stroke-linecap="square"/>
<line x1="431" y1="317.4" x2="461" y2="317.4" stroke="#000" stroke-width="1.3" stroke-linecap="square"/>
<line x1="431" y1="317.4" x2="431" y2="336.7" stroke="#000" stroke-width="1.3" stroke-linecap="square"/>
<line x1="461" y1="317.4" x2="461" y2="336.7" stroke="#000" stroke-width="1.3" stroke-linecap="square"/>
<line x1="103.2" y1="352.3" x2="113.9" y2="352.3" stroke="#000" stroke-width="1.3" stroke-linecap="square"/>
<line x1="103.2" y1="377.7" x2="113.9" y2="377.7" stroke="#000" stroke-width="1.3" stroke-linecap="square"/>
<line x1="103.2" y1="352.3" x2="103.2" y2="377.7" stroke="#000" stroke-width="1.3" stroke-linecap="square"/>
<line x1="102.4" y1="365.0" x2="103.2" y2="365.0" stroke="#000" stroke-width="1.3" stroke-linecap="square"/>
<line x1="102.4" y1="365.0" x2="102.4" y2="403.3" stroke="#000" stroke-width="1.3" stroke-linecap="square"/>
<line x1="102.4" y1="403.3" x2="113.9" y2="403.3" stroke="#000" stroke-width="1.3" stroke-linecap="square"/>
<line x1="97.6" y1="384.15" x2="102.4" y2="384.15" stroke="#000" stroke-width="1.3" stroke-linecap="square"/>
<line x1="97.6" y1="384.15" x2="97.6" y2="428.8" stroke="#000" stroke-width="1.3" stroke-linecap="square"/>
<line x1="97.6" y1="428.8" x2="113.9" y2="428.8" stroke="#000" stroke-width="1.3" stroke-linecap="square"/>
<line x1="106.7" y1="454.5" x2="113.9" y2="454.5" stroke="#000" stroke-width="1.3" stroke-linecap="square"/>
<line x1="106.7" y1="479.6" x2="113.9" y2="479.6" stroke="#000" stroke-width="1.3" stroke-linecap="square"/>
<line x1="106.7" y1="454.5" x2="106.7" y2="479.6" stroke="#000" stroke-width="1.3" stroke-linecap="square"/>
<line x1="101.2" y1="467.05" x2="106.7" y2="467.05" stroke="#000" stroke-width="1.3" stroke-linecap="square"/>
<line x1="101.2" y1="467.05" x2="101.2" y2="505.5" stroke="#000" stroke-width="1.3" stroke-linecap="square"/>
<line x1="101.2" y1="505.5" x2="113.9" y2="505.5" stroke="#000" stroke-width="1.3" stroke-linecap="square"/>
<line x1="89.4" y1="406.475" x2="97.6" y2="406.475" stroke="#000" stroke-width="1.3" stroke-linecap="square"/>
<line x1="89.4" y1="486.275" x2="101.2" y2="486.275" stroke="#000" stroke-width="1.3" stroke-linecap="square"/>
<line x1="89.4" y1="406.475" x2="89.4" y2="486.275" stroke="#000" stroke-width="1.3" stroke-linecap="square"/>
<line x1="64.4" y1="446.375" x2="89.4" y2="446.375" stroke="#000" stroke-width="1.3" stroke-linecap="square"/>
<line x1="64.4" y1="446.375" x2="64.4" y2="530.5" stroke="#000" stroke-width="1.3" stroke-linecap="square"/>
<line x1="64.4" y1="530.5" x2="113.9" y2="530.5" stroke="#000" stroke-width="1.3" stroke-linecap="square"/>
<rect x="268.6" y="547.9" width="26.3" height="152.2" fill="#efedf8" stroke="#dcd9ec" stroke-width="0.8"/>
<rect x="329" y="547.9" width="85" height="152.2" fill="#e4f7f3" stroke="#cfe9e4" stroke-width="0.8"/>
<rect x="299.6" y="548.3" width="29.2" height="152.6" fill="#effaf8" stroke="#333" stroke-width="1.2" stroke-dasharray="1.5,1.5"/>
<rect x="419" y="547.9" width="56.6" height="152.2" fill="#fcf4d8" stroke="#ece4c8" stroke-width="0.8"/>
<clipPath id="mc"><rect x="268.0" y="343.5" width="207.39999999999998" height="203.29999999999995"/></clipPath>
<rect x="268.0" y="343.5" width="207.39999999999998" height="203.29999999999995" fill="#fff"/>
<g clip-path="url(#mc)">
<circle cx="277.50" cy="352.40" r="10.7" fill="#2f4b80" stroke="#00fafa" stroke-width="2.2"/>
<circle cx="308.97" cy="352.40" r="3.2" fill="#c566c9" fill-opacity="0.3"/>
<circle cx="340.44" cy="352.40" r="3.4" fill="#c566c9" fill-opacity="0.3"/>
<circle cx="371.91" cy="352.40" r="6.1" fill="#c566c9" stroke="#00fafa" stroke-width="2.2"/>
<circle cx="403.38" cy="352.40" r="5.5" fill="#c566c9" stroke="#00fafa" stroke-width="2.2"/>
<circle cx="434.85" cy="352.40" r="5.5" fill="#c566c9" stroke="#00fafa" stroke-width="2.2"/>
<circle cx="466.32" cy="352.40" r="8.5" fill="#c566c9" stroke="#00fafa" stroke-width="2.2"/>
<circle cx="277.50" cy="378.83" r="4.4" fill="#c566c9" fill-opacity="0.3"/>
<circle cx="308.97" cy="378.83" r="3.8" fill="#2f4b80" fill-opacity="0.3"/>
<circle cx="340.44" cy="378.83" r="4.3" fill="#c566c9" fill-opacity="0.3"/>
<circle cx="371.91" cy="378.83" r="1.0" fill="#c566c9" fill-opacity="0.3"/>
<circle cx="403.38" cy="378.83" r="4.4" fill="#2f4b80" fill-opacity="0.3"/>
<circle cx="434.85" cy="378.83" r="5.2" fill="#2f4b80" fill-opacity="0.3"/>
<circle cx="466.32" cy="378.83" r="4.1" fill="#c566c9" fill-opacity="0.3"/>
<circle cx="277.50" cy="405.26" r="5.5" fill="#c566c9" fill-opacity="0.3"/>
<circle cx="308.97" cy="405.26" r="3.8" fill="#2f4b80" fill-opacity="0.3"/>
<circle cx="340.44" cy="405.26" r="2.3" fill="#c566c9" fill-opacity="0.3"/>
<circle cx="371.91" cy="405.26" r="3.1" fill="#c566c9" fill-opacity="0.3"/>
<circle cx="403.38" cy="405.26" r="3.1" fill="#c566c9" fill-opacity="0.3"/>
<circle cx="434.85" cy="405.26" r="5.5" fill="#2f4b80" stroke="#00fafa" stroke-width="2.2"/>
<circle cx="466.32" cy="405.26" r="3.2" fill="#2f4b80" fill-opacity="0.3"/>
<circle cx="277.50" cy="431.69" r="5.5" fill="#c566c9" stroke="#00fafa" stroke-width="2.2"/>
<circle cx="308.97" cy="431.69" r="5.4" fill="#2f4b80" fill-opacity="0.3"/>
<circle cx="340.44" cy="431.69" r="4.0" fill="#c566c9" fill-opacity="0.3"/>
<circle cx="371.91" cy="431.69" r="4.1" fill="#c566c9" fill-opacity="0.3"/>
<circle cx="403.38" cy="431.69" r="2.4" fill="#c566c9" fill-opacity="0.3"/>
<circle cx="434.85" cy="431.69" r="5.5" fill="#2f4b80" stroke="#00fafa" stroke-width="2.2"/>
<circle cx="466.32" cy="431.69" r="5.3" fill="#2f4b80" fill-opacity="0.3"/>
<circle cx="277.50" cy="458.12" r="6.6" fill="#2f4b80" stroke="#00fafa" stroke-width="2.2"/>
<circle cx="308.97" cy="458.12" r="5.4" fill="#2f4b80" fill-opacity="0.3"/>
<circle cx="340.44" cy="458.12" r="4.6" fill="#2f4b80" fill-opacity="0.3"/>
<circle cx="371.91" cy="458.12" r="3.5" fill="#c566c9" fill-opacity="0.3"/>
<circle cx="403.38" cy="458.12" r="4.4" fill="#2f4b80" fill-opacity="0.3"/>
<circle cx="434.85" cy="458.12" r="5.5" fill="#c566c9" stroke="#00fafa" stroke-width="2.2"/>
<circle cx="466.32" cy="458.12" r="4.8" fill="#c566c9" fill-opacity="0.3"/>
<circle cx="277.50" cy="484.55" r="5.5" fill="#2f4b80" fill-opacity="0.3"/>
<circle cx="308.97" cy="484.55" r="4.7" fill="#2f4b80" fill-opacity="0.3"/>
<circle cx="340.44" cy="484.55" r="2.4" fill="#2f4b80" fill-opacity="0.3"/>
<circle cx="371.91" cy="484.55" r="3.2" fill="#c566c9" fill-opacity="0.3"/>
<circle cx="403.38" cy="484.55" r="3.5" fill="#c566c9" fill-opacity="0.3"/>
<circle cx="434.85" cy="484.55" r="2.4" fill="#2f4b80" fill-opacity="0.3"/>
<circle cx="466.32" cy="484.55" r="3.0" fill="#c566c9" fill-opacity="0.3"/>
<circle cx="277.50" cy="510.98" r="5.5" fill="#2f4b80" fill-opacity="0.3"/>
<circle cx="308.97" cy="510.98" r="4.3" fill="#c566c9" fill-opacity="0.3"/>
<circle cx="340.44" cy="510.98" r="3.3" fill="#2f4b80" fill-opacity="0.3"/>
<circle cx="371.91" cy="510.98" r="3.1" fill="#2f4b80" fill-opacity="0.3"/>
<circle cx="403.38" cy="510.98" r="3.8" fill="#c566c9" fill-opacity="0.3"/>
<circle cx="434.85" cy="510.98" r="5.9" fill="#c566c9" fill-opacity="0.3"/>
<circle cx="466.32" cy="510.98" r="2.5" fill="#c566c9" fill-opacity="0.3"/>
<circle cx="277.50" cy="537.41" r="4.9" fill="#2f4b80" fill-opacity="0.3"/>
<circle cx="308.97" cy="537.41" r="3.5" fill="#c566c9" fill-opacity="0.3"/>
<circle cx="340.44" cy="537.41" r="4.6" fill="#2f4b80" fill-opacity="0.3"/>
<circle cx="371.91" cy="537.41" r="3.1" fill="#2f4b80" fill-opacity="0.3"/>
<circle cx="403.38" cy="537.41" r="3.1" fill="#2f4b80" fill-opacity="0.3"/>
<circle cx="434.85" cy="537.41" r="3.4" fill="#c566c9" fill-opacity="0.3"/>
<circle cx="466.32" cy="537.41" r="5.7" fill="#c566c9" fill-opacity="0.3"/>
<line x1="277.50" y1="343.5" x2="277.50" y2="546.8" stroke="#808080" stroke-opacity="0.33" stroke-width="1.2"/>
<line x1="308.97" y1="343.5" x2="308.97" y2="546.8" stroke="#808080" stroke-opacity="0.33" stroke-width="1.2"/>
<line x1="340.44" y1="343.5" x2="340.44" y2="546.8" stroke="#808080" stroke-opacity="0.33" stroke-width="1.2"/>
<line x1="371.91" y1="343.5" x2="371.91" y2="546.8" stroke="#808080" stroke-opacity="0.33" stroke-width="1.2"/>
<line x1="403.38" y1="343.5" x2="403.38" y2="546.8" stroke="#808080" stroke-opacity="0.33" stroke-width="1.2"/>
<line x1="434.85" y1="343.5" x2="434.85" y2="546.8" stroke="#808080" stroke-opacity="0.33" stroke-width="1.2"/>
<line x1="466.32" y1="343.5" x2="466.32" y2="546.8" stroke="#808080" stroke-opacity="0.33" stroke-width="1.2"/>
<line x1="268.0" y1="352.40" x2="475.4" y2="352.40" stroke="#808080" stroke-opacity="0.33" stroke-width="1.2"/>
<line x1="268.0" y1="378.83" x2="475.4" y2="378.83" stroke="#808080" stroke-opacity="0.33" stroke-width="1.2"/>
<line x1="268.0" y1="405.26" x2="475.4" y2="405.26" stroke="#808080" stroke-opacity="0.33" stroke-width="1.2"/>
<line x1="268.0" y1="431.69" x2="475.4" y2="431.69" stroke="#808080" stroke-opacity="0.33" stroke-width="1.2"/>
<line x1="268.0" y1="458.12" x2="475.4" y2="458.12" stroke="#808080" stroke-opacity="0.33" stroke-width="1.2"/>
<line x1="268.0" y1="484.55" x2="475.4" y2="484.55" stroke="#808080" stroke-opacity="0.33" stroke-width="1.2"/>
<line x1="268.0" y1="510.98" x2="475.4" y2="510.98" stroke="#808080" stroke-opacity="0.33" stroke-width="1.2"/>
<line x1="268.0" y1="537.41" x2="475.4" y2="537.41" stroke="#808080" stroke-opacity="0.33" stroke-width="1.2"/>
</g>
<line x1="268.0" y1="546.8" x2="475.4" y2="546.8" stroke="#999" stroke-width="1.4" />
<line x1="268.0" y1="343.5" x2="268.0" y2="546.8" stroke="#999" stroke-width="1.3" />
<line x1="267.5" y1="343.5" x2="475.9" y2="343.5" stroke="#333" stroke-width="1.1" />
<line x1="475.4" y1="343.5" x2="475.4" y2="547.4" stroke="#555" stroke-width="1.1" />
<line x1="264.8" y1="352.4" x2="268.0" y2="352.4" stroke="#333" stroke-width="1.1" />
<text x="264.6" y="355.29999999999995" font-size="12.3" text-anchor="end" font-weight="normal" fill="#000" stroke="#000" stroke-width="0.22" textLength="58.4" lengthAdjust="spacing">TTA (Lab)</text>
<line x1="264.8" y1="378.83" x2="268.0" y2="378.83" stroke="#333" stroke-width="1.1" />
<text x="264.6" y="381.72999999999996" font-size="12.3" text-anchor="end" font-weight="normal" fill="#000" stroke="#000" stroke-width="0.22" textLength="88.5" lengthAdjust="spacing">Feeding temp.</text>
<line x1="264.8" y1="405.26" x2="268.0" y2="405.26" stroke="#333" stroke-width="1.1" />
<text x="264.6" y="408.15999999999997" font-size="12.3" text-anchor="end" font-weight="normal" fill="#000" stroke="#000" stroke-width="0.22" textLength="145.3" lengthAdjust="spacing">Sourdough pH (Citizen)</text>
<line x1="264.8" y1="431.68999999999994" x2="268.0" y2="431.68999999999994" stroke="#333" stroke-width="1.1" />
<text x="264.6" y="434.5899999999999" font-size="12.3" text-anchor="end" font-weight="normal" fill="#000" stroke="#000" stroke-width="0.22" textLength="88.9" lengthAdjust="spacing">Backslop freq.</text>
<line x1="264.8" y1="458.12" x2="268.0" y2="458.12" stroke="#333" stroke-width="1.1" />
<text x="264.6" y="461.02" font-size="12.3" text-anchor="end" font-weight="normal" fill="#000" stroke="#000" stroke-width="0.22" textLength="75.4" lengthAdjust="spacing">Dough yield</text>
<line x1="264.8" y1="484.54999999999995" x2="268.0" y2="484.54999999999995" stroke="#333" stroke-width="1.1" />
<text x="264.6" y="487.44999999999993" font-size="12.3" text-anchor="end" font-weight="normal" fill="#000" stroke="#000" stroke-width="0.22" textLength="58.199999999999996" lengthAdjust="spacing">Bread pH</text>
<line x1="264.8" y1="510.97999999999996" x2="268.0" y2="510.97999999999996" stroke="#333" stroke-width="1.1" />
<text x="264.6" y="513.88" font-size="12.3" text-anchor="end" font-weight="normal" fill="#000" stroke="#000" stroke-width="0.22" textLength="80.7" lengthAdjust="spacing">Feeding time</text>
<line x1="264.8" y1="537.41" x2="268.0" y2="537.41" stroke="#333" stroke-width="1.1" />
<text x="264.6" y="540.31" font-size="12.3" text-anchor="end" font-weight="normal" fill="#000" stroke="#000" stroke-width="0.22" textLength="86.9" lengthAdjust="spacing">Bread density</text>
<line x1="277.5" y1="546.8" x2="277.5" y2="549.8" stroke="#333" stroke-width="1.1" />
<text x="0" y="0" font-size="13.4" text-anchor="end" font-weight="normal" fill="#000" stroke="#000" stroke-width="0.22" transform="translate(282.10,550.3) rotate(-90)" textLength="40.4" lengthAdjust="spacing">Wheat</text>
<line x1="308.97" y1="546.8" x2="308.97" y2="549.8" stroke="#333" stroke-width="1.1" />
<text x="0" y="0" font-size="13.4" text-anchor="end" font-weight="normal" fill="#000" stroke="#000" stroke-width="0.22" transform="translate(313.57,550.3) rotate(-90)" textLength="30.4" lengthAdjust="spacing">Spelt</text>
<line x1="340.44" y1="546.8" x2="340.44" y2="549.8" stroke="#333" stroke-width="1.1" />
<text x="0" y="0" font-size="13.4" text-anchor="end" font-weight="normal" fill="#000" stroke="#000" stroke-width="0.22" transform="translate(345.04,550.3) rotate(-90)" textLength="146.5" lengthAdjust="spacing">Semi-wholemeal wheat</text>
<line x1="371.90999999999997" y1="546.8" x2="371.90999999999997" y2="549.8" stroke="#333" stroke-width="1.1" />
<text x="0" y="0" font-size="13.4" text-anchor="end" font-weight="normal" fill="#000" stroke="#000" stroke-width="0.22" transform="translate(376.51,550.3) rotate(-90)" textLength="112.5" lengthAdjust="spacing">Wholemeal wheat</text>
<line x1="403.38" y1="546.8" x2="403.38" y2="549.8" stroke="#333" stroke-width="1.1" />
<text x="0" y="0" font-size="13.4" text-anchor="end" font-weight="normal" fill="#000" stroke="#000" stroke-width="0.22" transform="translate(407.98,550.3) rotate(-90)" textLength="106.0" lengthAdjust="spacing">Wholemeal spelt</text>
<line x1="434.85" y1="546.8" x2="434.85" y2="549.8" stroke="#333" stroke-width="1.1" />
<text x="0" y="0" font-size="13.4" text-anchor="end" font-weight="normal" fill="#000" stroke="#000" stroke-width="0.22" transform="translate(439.45,550.3) rotate(-90)" textLength="22.9" lengthAdjust="spacing">Rye</text>
<line x1="466.32" y1="546.8" x2="466.32" y2="549.8" stroke="#333" stroke-width="1.1" />
<text x="0" y="0" font-size="13.4" text-anchor="end" font-weight="normal" fill="#000" stroke="#000" stroke-width="0.22" transform="translate(470.92,550.3) rotate(-90)" textLength="95.0" lengthAdjust="spacing">Wholemeal rye</text>
<text x="281.6" y="713.6" font-size="14.4" text-anchor="middle" font-weight="normal" fill="#5b5394" stroke="#5b5394" stroke-width="0.22" >Wheat</text>
<text x="362.4" y="713.6" font-size="14.0" text-anchor="middle" font-weight="normal" fill="#1d9985" stroke="#1d9985" stroke-width="0.22" >Wholemeal</text>
<text x="362.6" y="727.4" font-size="14.0" text-anchor="middle" font-weight="normal" fill="#1d9985" stroke="#1d9985" stroke-width="0.22" >+ spelt</text>
<text x="446.6" y="713.6" font-size="14.4" text-anchor="middle" font-weight="normal" fill="#6e6127" stroke="#6e6127" stroke-width="0.22" >Rye</text>
<rect x="484.5" y="385.8" width="112.1" height="117.3" rx="1.5" fill="#fff" stroke="#d8d8d8" stroke-width="0.9"/>
<circle cx="505" cy="399.2" r="2.3" fill="#1e1e1e"/>
<text x="516.3" y="402.4" font-size="12.0" text-anchor="start" font-weight="normal" fill="#000" stroke="#000" stroke-width="0.22" textLength="56.0" lengthAdjust="spacing">lrl = 0.02</text>
<circle cx="505" cy="411.8" r="5.2" fill="#1e1e1e"/>
<text x="516.3" y="415.0" font-size="12.0" text-anchor="start" font-weight="normal" fill="#000" stroke="#000" stroke-width="0.22" textLength="56.0" lengthAdjust="spacing">lrl = 0.10</text>
<circle cx="505" cy="424.5" r="7.05" fill="#1e1e1e"/>
<text x="516.3" y="427.7" font-size="12.0" text-anchor="start" font-weight="normal" fill="#000" stroke="#000" stroke-width="0.22" textLength="56.0" lengthAdjust="spacing">lrl = 0.20</text>
<circle cx="505" cy="437.4" r="5.6" fill="#aaaaaa"/>
<text x="516.3" y="440.59999999999997" font-size="12.0" text-anchor="start" font-weight="normal" fill="#000" stroke="#000" stroke-width="0.22" textLength="45.2" lengthAdjust="spacing">p&gt;0.05</text>
<circle cx="505" cy="450.1" r="5.6" fill="#000"/>
<text x="516.3" y="453.3" font-size="12.0" text-anchor="start" font-weight="normal" fill="#000" stroke="#000" stroke-width="0.22" textLength="45.2" lengthAdjust="spacing">p&lt;0.05</text>
<circle cx="505" cy="462.8" r="4.7" fill="#000" stroke="#00fafa" stroke-width="2"/>
<text x="516.3" y="466.0" font-size="12.0" text-anchor="start" font-weight="normal" fill="#000" stroke="#000" stroke-width="0.22" textLength="75.6" lengthAdjust="spacing">p-FDR&lt;0.05</text>
<circle cx="505" cy="475.5" r="5.6" fill="#c566c9"/>
<text x="516.3" y="478.7" font-size="12.0" text-anchor="start" font-weight="normal" fill="#000" stroke="#000" stroke-width="0.22" textLength="33.9" lengthAdjust="spacing">+cor.</text>
<circle cx="505" cy="488.3" r="5.6" fill="#2f4b80"/>
<text x="516.3" y="491.5" font-size="12.0" text-anchor="start" font-weight="normal" fill="#000" stroke="#000" stroke-width="0.22" textLength="33.9" lengthAdjust="spacing">-  cor.</text>
</svg>
</body></html>
